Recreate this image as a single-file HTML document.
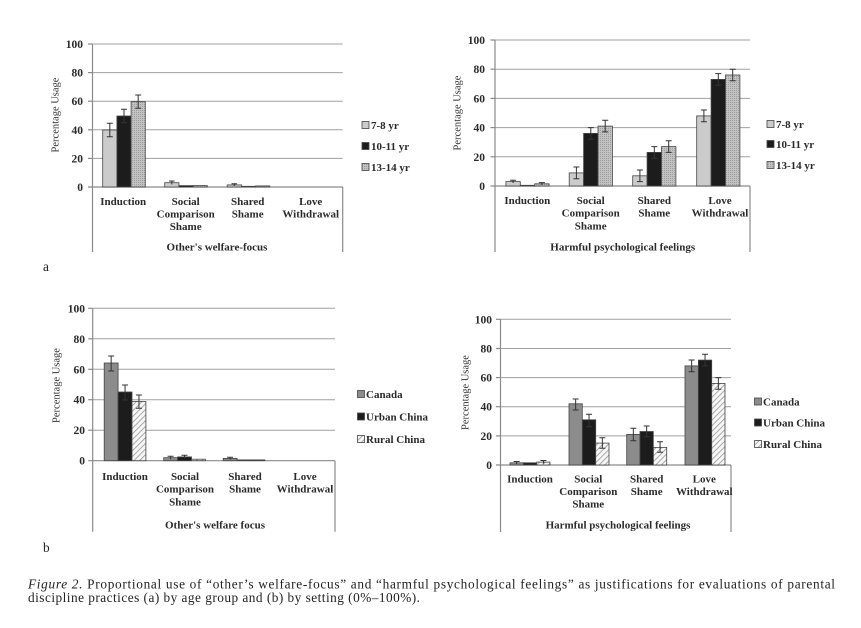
<!DOCTYPE html>
<html><head><meta charset="utf-8"><style>
html,body{margin:0;padding:0;background:#fff;}
svg{display:block;}
.t{font-family:"Liberation Serif",serif;font-weight:bold;font-size:11px;fill:#2a2a2a;}
.tk{font-family:"Liberation Serif",serif;font-weight:bold;font-size:11.5px;fill:#2a2a2a;text-anchor:end;}
.c{text-anchor:middle;}
.yt{font-family:"Liberation Serif",serif;font-size:10.5px;fill:#333;text-anchor:middle;}
.cap{font-family:"Liberation Serif",serif;font-size:13.3px;fill:#222;}
.g{stroke:#a0a0a0;stroke-width:1;}
.ax{stroke:#8a8a8a;stroke-width:1.2;fill:none;}
.e{stroke:#333;stroke-width:1;fill:none;}
g rect{stroke:#444;stroke-width:0.8;}
</style></head><body>
<svg width="861" height="628" viewBox="0 0 861 628" xmlns="http://www.w3.org/2000/svg">
<defs>
<pattern id="dots" width="2" height="2" patternUnits="userSpaceOnUse">
<rect x="0" y="0" width="2" height="2" fill="#c2c2c2" stroke="none"/>
<rect x="0" y="0" width="1" height="1" fill="#9c9c9c" stroke="none"/>
</pattern>
<pattern id="hatch" width="4" height="4" patternUnits="userSpaceOnUse" patternTransform="rotate(45)">
<rect x="0" y="0" width="4" height="4" fill="#f6f6f6" stroke="none"/>
<line x1="0" y1="0" x2="0" y2="4" stroke="#909090" stroke-width="1.5"/>
</pattern>
</defs>
<rect x="0" y="0" width="861" height="628" fill="#fff" stroke="none"/>

<!-- ================= Chart A ================= -->
<g>
<line class="g" x1="92.5" y1="44" x2="342.7" y2="44"/>
<line class="g" x1="92.5" y1="72.6" x2="342.7" y2="72.6"/>
<line class="g" x1="92.5" y1="101.2" x2="342.7" y2="101.2"/>
<line class="g" x1="92.5" y1="129.8" x2="342.7" y2="129.8"/>
<line class="g" x1="92.5" y1="158.4" x2="342.7" y2="158.4"/>
<line class="ax" x1="88" y1="44" x2="92.5" y2="44"/>
<line class="ax" x1="88" y1="72.6" x2="92.5" y2="72.6"/>
<line class="ax" x1="88" y1="101.2" x2="92.5" y2="101.2"/>
<line class="ax" x1="88" y1="129.8" x2="92.5" y2="129.8"/>
<line class="ax" x1="88" y1="158.4" x2="92.5" y2="158.4"/>
<line class="ax" x1="88" y1="187" x2="342.7" y2="187"/>
<line class="ax" x1="92.5" y1="44" x2="92.5" y2="252"/>
<line class="ax" x1="342.7" y1="187" x2="342.7" y2="252"/>
<text class="tk" x="83" y="48">100</text>
<text class="tk" x="83" y="76.6">80</text>
<text class="tk" x="83" y="105.2">60</text>
<text class="tk" x="83" y="133.8">40</text>
<text class="tk" x="83" y="162.4">20</text>
<text class="tk" x="83" y="191">0</text>
<text class="yt" transform="translate(55,115) rotate(-90)" y="3.5">Percentage Usage</text>
<rect x="102.7" y="130" width="14.2" height="57" fill="#cbcbcb"/>
<rect x="116.9" y="116" width="14.2" height="71" fill="#1c1c1c"/>
<rect x="131.1" y="101.7" width="14.2" height="85.3" fill="url(#dots)"/>
<path class="e" d="M109.8 123.3V136.7M106.8 123.3H112.8M106.8 136.7H112.8"/>
<path class="e" d="M124 109.3V122.7M121 109.3H127M121 122.7H127"/>
<path class="e" d="M138.2 95V108.3M135.2 95H141.2M135.2 108.3H141.2"/>
<rect x="164.7" y="182.7" width="14.2" height="4.3" fill="#cbcbcb"/>
<rect x="178.9" y="185.6" width="14.2" height="1.4" fill="#1c1c1c"/>
<rect x="193.1" y="185.6" width="14.2" height="1.4" fill="url(#dots)"/>
<path class="e" d="M171.8 181V184.5M169 181H174.6"/>
<rect x="227.2" y="184.9" width="14.2" height="2.1" fill="#cbcbcb"/>
<rect x="241.4" y="186.3" width="14.2" height="0.7" fill="#1c1c1c"/>
<rect x="255.6" y="185.9" width="14.2" height="1.1" fill="url(#dots)"/>
<path class="e" d="M234.3 183.8V186M231.5 183.8H237.1"/>
<text class="t c" x="123.2" y="205">Induction</text>
<text class="t c" x="185.7" y="205">Social</text>
<text class="t c" x="185.7" y="217.5">Comparison</text>
<text class="t c" x="185.7" y="230">Shame</text>
<text class="t c" x="247.7" y="205">Shared</text>
<text class="t c" x="247.7" y="217.5">Shame</text>
<text class="t c" x="310.7" y="205">Love</text>
<text class="t c" x="310.7" y="217.5">Withdrawal</text>
<text class="t c" x="217" y="250.5">Other's welfare-focus</text>
<rect x="362" y="121.5" width="7" height="7" fill="#cbcbcb"/>
<rect x="362" y="142.5" width="7" height="7" fill="#1c1c1c"/>
<rect x="362" y="163.5" width="7" height="7" fill="url(#dots)"/>
<text class="t" x="371" y="129">7-8 yr</text>
<text class="t" x="371" y="150">10-11 yr</text>
<text class="t" x="371" y="171">13-14 yr</text>
<text class="cap" x="43" y="271">a</text>
</g>

<!-- ================= Chart B ================= -->
<g>
<line class="g" x1="495" y1="40" x2="750" y2="40"/>
<line class="g" x1="495" y1="69.2" x2="750" y2="69.2"/>
<line class="g" x1="495" y1="98.4" x2="750" y2="98.4"/>
<line class="g" x1="495" y1="127.6" x2="750" y2="127.6"/>
<line class="g" x1="495" y1="156.8" x2="750" y2="156.8"/>
<line class="ax" x1="490.5" y1="40" x2="495" y2="40"/>
<line class="ax" x1="490.5" y1="69.2" x2="495" y2="69.2"/>
<line class="ax" x1="490.5" y1="98.4" x2="495" y2="98.4"/>
<line class="ax" x1="490.5" y1="127.6" x2="495" y2="127.6"/>
<line class="ax" x1="490.5" y1="156.8" x2="495" y2="156.8"/>
<line class="ax" x1="490.5" y1="186" x2="750" y2="186"/>
<line class="ax" x1="495" y1="40" x2="495" y2="252"/>
<line class="ax" x1="750" y1="186" x2="750" y2="252"/>
<text class="tk" x="485" y="44">100</text>
<text class="tk" x="485" y="73.2">80</text>
<text class="tk" x="485" y="102.4">60</text>
<text class="tk" x="485" y="131.6">40</text>
<text class="tk" x="485" y="160.8">20</text>
<text class="tk" x="485" y="190">0</text>
<text class="yt" transform="translate(457,113) rotate(-90)" y="3.5">Percentage Usage</text>
<rect x="505.9" y="181.6" width="14.4" height="4.4" fill="#cbcbcb"/>
<rect x="520.3" y="185.3" width="14.4" height="0.7" fill="#1c1c1c"/>
<rect x="534.7" y="183.8" width="14.4" height="2.2" fill="url(#dots)"/>
<path class="e" d="M513.1 180.3V183M510.1 180.3H516.1M541.9 182.6V185M538.9 182.6H544.9"/>
<rect x="569.2" y="172.9" width="14.4" height="13.1" fill="#cbcbcb"/>
<rect x="583.6" y="133.4" width="14.4" height="52.6" fill="#1c1c1c"/>
<rect x="598" y="126.1" width="14.4" height="59.9" fill="url(#dots)"/>
<path class="e" d="M576.4 167V178.7M573.4 167H579.4M573.4 178.7H579.4"/>
<path class="e" d="M590.8 127.6V139.2M587.8 127.6H593.8M587.8 139.2H593.8"/>
<path class="e" d="M605.2 120.3V131.9M602.2 120.3H608.2M602.2 131.9H608.2"/>
<rect x="632.7" y="175.8" width="14.4" height="10.2" fill="#cbcbcb"/>
<rect x="647.1" y="152.4" width="14.4" height="33.6" fill="#1c1c1c"/>
<rect x="661.5" y="146.6" width="14.4" height="39.4" fill="url(#dots)"/>
<path class="e" d="M639.9 170V181.6M636.9 170H642.9M636.9 181.6H642.9"/>
<path class="e" d="M654.3 146.6V158.2M651.3 146.6H657.3M651.3 158.2H657.3"/>
<path class="e" d="M668.7 140.8V152.4M665.7 140.8H671.7M665.7 152.4H671.7"/>
<rect x="696.7" y="115.9" width="14.4" height="70.1" fill="#cbcbcb"/>
<rect x="711.1" y="79.4" width="14.4" height="106.6" fill="#1c1c1c"/>
<rect x="725.5" y="75" width="14.4" height="111" fill="url(#dots)"/>
<path class="e" d="M703.9 110V121.7M700.9 110H706.9M700.9 121.7H706.9"/>
<path class="e" d="M718.3 73.6V85.2M715.3 73.6H721.3M715.3 85.2H721.3"/>
<path class="e" d="M732.7 69.2V80.8M729.7 69.2H735.7M729.7 80.8H735.7"/>
<text class="t c" x="527.3" y="204">Induction</text>
<text class="t c" x="590.7" y="204">Social</text>
<text class="t c" x="590.7" y="216.7">Comparison</text>
<text class="t c" x="590.7" y="229.3">Shame</text>
<text class="t c" x="654.3" y="204">Shared</text>
<text class="t c" x="654.3" y="216.7">Shame</text>
<text class="t c" x="720" y="204">Love</text>
<text class="t c" x="720" y="216.7">Withdrawal</text>
<text class="t c" x="622.7" y="250.7">Harmful psychological feelings</text>
<rect x="767" y="120.5" width="7" height="7" fill="#cbcbcb"/>
<rect x="767" y="140.5" width="7" height="7" fill="#1c1c1c"/>
<rect x="767" y="161.5" width="7" height="7" fill="url(#dots)"/>
<text class="t" x="776" y="128">7-8 yr</text>
<text class="t" x="776" y="148">10-11 yr</text>
<text class="t" x="776" y="169">13-14 yr</text>
</g>

<!-- ================= Chart C ================= -->
<g>
<line class="g" x1="92.7" y1="308.3" x2="335" y2="308.3"/>
<line class="g" x1="92.7" y1="338.8" x2="335" y2="338.8"/>
<line class="g" x1="92.7" y1="369.3" x2="335" y2="369.3"/>
<line class="g" x1="92.7" y1="399.7" x2="335" y2="399.7"/>
<line class="g" x1="92.7" y1="430.2" x2="335" y2="430.2"/>
<line class="ax" x1="88.2" y1="308.3" x2="92.7" y2="308.3"/>
<line class="ax" x1="88.2" y1="338.8" x2="92.7" y2="338.8"/>
<line class="ax" x1="88.2" y1="369.3" x2="92.7" y2="369.3"/>
<line class="ax" x1="88.2" y1="399.7" x2="92.7" y2="399.7"/>
<line class="ax" x1="88.2" y1="430.2" x2="92.7" y2="430.2"/>
<line class="ax" x1="88.2" y1="460.7" x2="335" y2="460.7"/>
<line class="ax" x1="92.7" y1="308.3" x2="92.7" y2="531.7"/>
<line class="ax" x1="335" y1="460.7" x2="335" y2="531.7"/>
<text class="tk" x="85" y="312.3">100</text>
<text class="tk" x="85" y="342.8">80</text>
<text class="tk" x="85" y="373.3">60</text>
<text class="tk" x="85" y="403.7">40</text>
<text class="tk" x="85" y="434.2">20</text>
<text class="tk" x="85" y="464.7">0</text>
<text class="yt" transform="translate(56,385.5) rotate(-90)" y="3.5">Percentage Usage</text>
<rect x="104.2" y="363" width="13.9" height="97.7" fill="#8c8c8c"/>
<rect x="118.1" y="392" width="13.9" height="68.7" fill="#1c1c1c"/>
<rect x="132" y="401.5" width="13.9" height="59.2" fill="url(#hatch)"/>
<path class="e" d="M111.15 356V371M108.15 356H114.15M108.15 371H114.15"/>
<path class="e" d="M125.05 385V400M122.05 385H128.05M122.05 400H128.05"/>
<path class="e" d="M138.95 395V408.3M135.95 395H141.95M135.95 408.3H141.95"/>
<rect x="163.7" y="457.7" width="13.9" height="3" fill="#8c8c8c"/>
<rect x="177.6" y="456.9" width="13.9" height="3.8" fill="#1c1c1c"/>
<rect x="191.5" y="459.2" width="13.9" height="1.5" fill="url(#hatch)"/>
<path class="e" d="M170.6 456.2V459.2M167.6 456.2H173.6M184.5 455.2V458.5M181.5 455.2H187.5"/>
<rect x="223.2" y="458.4" width="13.9" height="2.3" fill="#8c8c8c"/>
<rect x="237.1" y="459.9" width="13.9" height="0.8" fill="#1c1c1c"/>
<rect x="251" y="459.9" width="13.9" height="0.8" fill="url(#hatch)"/>
<path class="e" d="M230.1 457.2V459.6M227.1 457.2H233.1"/>
<text class="t c" x="125" y="480">Induction</text>
<text class="t c" x="185" y="480">Social</text>
<text class="t c" x="185" y="492.5">Comparison</text>
<text class="t c" x="185" y="505.5">Shame</text>
<text class="t c" x="245" y="480">Shared</text>
<text class="t c" x="245" y="492.5">Shame</text>
<text class="t c" x="305" y="480">Love</text>
<text class="t c" x="305" y="492.5">Withdrawal</text>
<text class="t c" x="215" y="528.3">Other's welfare focus</text>
<rect x="357.5" y="390.5" width="7" height="7" fill="#8c8c8c"/>
<rect x="357.5" y="413" width="7" height="7" fill="#1c1c1c"/>
<rect x="357.5" y="435.5" width="7" height="7" fill="url(#hatch)"/>
<text class="t" x="366" y="398">Canada</text>
<text class="t" x="366" y="420.5">Urban China</text>
<text class="t" x="366" y="443">Rural China</text>
<text class="cap" x="43" y="552">b</text>
</g>

<!-- ================= Chart D ================= -->
<g>
<line class="g" x1="500.5" y1="319.3" x2="731" y2="319.3"/>
<line class="g" x1="500.5" y1="348.5" x2="731" y2="348.5"/>
<line class="g" x1="500.5" y1="377.6" x2="731" y2="377.6"/>
<line class="g" x1="500.5" y1="406.7" x2="731" y2="406.7"/>
<line class="g" x1="500.5" y1="435.9" x2="731" y2="435.9"/>
<line class="ax" x1="496" y1="319.3" x2="500.5" y2="319.3"/>
<line class="ax" x1="496" y1="348.5" x2="500.5" y2="348.5"/>
<line class="ax" x1="496" y1="377.6" x2="500.5" y2="377.6"/>
<line class="ax" x1="496" y1="406.7" x2="500.5" y2="406.7"/>
<line class="ax" x1="496" y1="435.9" x2="500.5" y2="435.9"/>
<line class="ax" x1="496" y1="465" x2="731" y2="465"/>
<line class="ax" x1="500.5" y1="319.3" x2="500.5" y2="532"/>
<line class="ax" x1="731" y1="465" x2="731" y2="532"/>
<text class="tk" x="492" y="323.3">100</text>
<text class="tk" x="492" y="352.5">80</text>
<text class="tk" x="492" y="381.6">60</text>
<text class="tk" x="492" y="410.7">40</text>
<text class="tk" x="492" y="439.9">20</text>
<text class="tk" x="492" y="469">0</text>
<text class="yt" transform="translate(465,392.5) rotate(-90)" y="3.5">Percentage Usage</text>
<rect x="510" y="462.8" width="13.3" height="2.2" fill="#8c8c8c"/>
<rect x="523.4" y="462.8" width="13.3" height="2.2" fill="#1c1c1c"/>
<rect x="536.7" y="462.1" width="13.3" height="2.9" fill="url(#hatch)"/>
<path class="e" d="M516.6 461.5V464M513.6 461.5H519.6M543.4 460.5V463.6M540.4 460.5H546.4"/>
<rect x="569" y="403.8" width="13.3" height="61.2" fill="#8c8c8c"/>
<rect x="582.4" y="419.8" width="13.3" height="45.2" fill="#1c1c1c"/>
<rect x="595.7" y="443.1" width="13.3" height="21.9" fill="url(#hatch)"/>
<path class="e" d="M575.65 399V410M572.65 399H578.65M572.65 410H578.65"/>
<path class="e" d="M589.05 414.3V426.7M586.05 414.3H592.05M586.05 426.7H592.05"/>
<path class="e" d="M602.35 437.7V448.3M599.35 437.7H605.35M599.35 448.3H605.35"/>
<rect x="626.7" y="434.4" width="13.3" height="30.6" fill="#8c8c8c"/>
<rect x="640" y="431.5" width="13.3" height="33.5" fill="#1c1c1c"/>
<rect x="653.4" y="447.5" width="13.3" height="17.5" fill="url(#hatch)"/>
<path class="e" d="M633.35 428.3V440.7M630.35 428.3H636.35M630.35 440.7H636.35"/>
<path class="e" d="M646.65 426V436.7M643.65 426H649.65M643.65 436.7H649.65"/>
<path class="e" d="M660.05 441.7V452.3M657.05 441.7H663.05M657.05 452.3H663.05"/>
<rect x="685" y="365.9" width="13.3" height="99.1" fill="#8c8c8c"/>
<rect x="698.4" y="360.1" width="13.3" height="104.9" fill="#1c1c1c"/>
<rect x="711.7" y="383.4" width="13.3" height="81.6" fill="url(#hatch)"/>
<path class="e" d="M691.65 360V371.8M688.65 360H694.65M688.65 371.8H694.65"/>
<path class="e" d="M705.05 354.3V366M702.05 354.3H708.05M702.05 366H708.05"/>
<path class="e" d="M718.35 377.6V389.3M715.35 377.6H721.35M715.35 389.3H721.35"/>
<text class="t c" x="530" y="482.7">Induction</text>
<text class="t c" x="588.3" y="482.7">Social</text>
<text class="t c" x="588.3" y="495.2">Comparison</text>
<text class="t c" x="588.3" y="507.7">Shame</text>
<text class="t c" x="646.7" y="482.7">Shared</text>
<text class="t c" x="646.7" y="495.2">Shame</text>
<text class="t c" x="704.3" y="482.7">Love</text>
<text class="t c" x="704.3" y="495.2">Withdrawal</text>
<text class="t c" x="618" y="528.3">Harmful psychological feelings</text>
<rect x="754.5" y="398" width="7" height="7" fill="#8c8c8c"/>
<rect x="754.5" y="419" width="7" height="7" fill="#1c1c1c"/>
<rect x="754.5" y="440.5" width="7" height="7" fill="url(#hatch)"/>
<text class="t" x="763" y="405.5">Canada</text>
<text class="t" x="763" y="426.5">Urban China</text>
<text class="t" x="763" y="448">Rural China</text>
</g>

<!-- ================= Caption ================= -->
<text class="cap" x="28" y="588.3" textLength="807" lengthAdjust="spacing"><tspan font-style="italic">Figure 2.</tspan> Proportional use of “other’s welfare-focus” and “harmful psychological feelings” as justifications for evaluations of parental</text>
<text class="cap" x="28" y="602" textLength="392" lengthAdjust="spacing">discipline practices (a) by age group and (b) by setting (0%–100%).</text>
</svg>
</body></html>
